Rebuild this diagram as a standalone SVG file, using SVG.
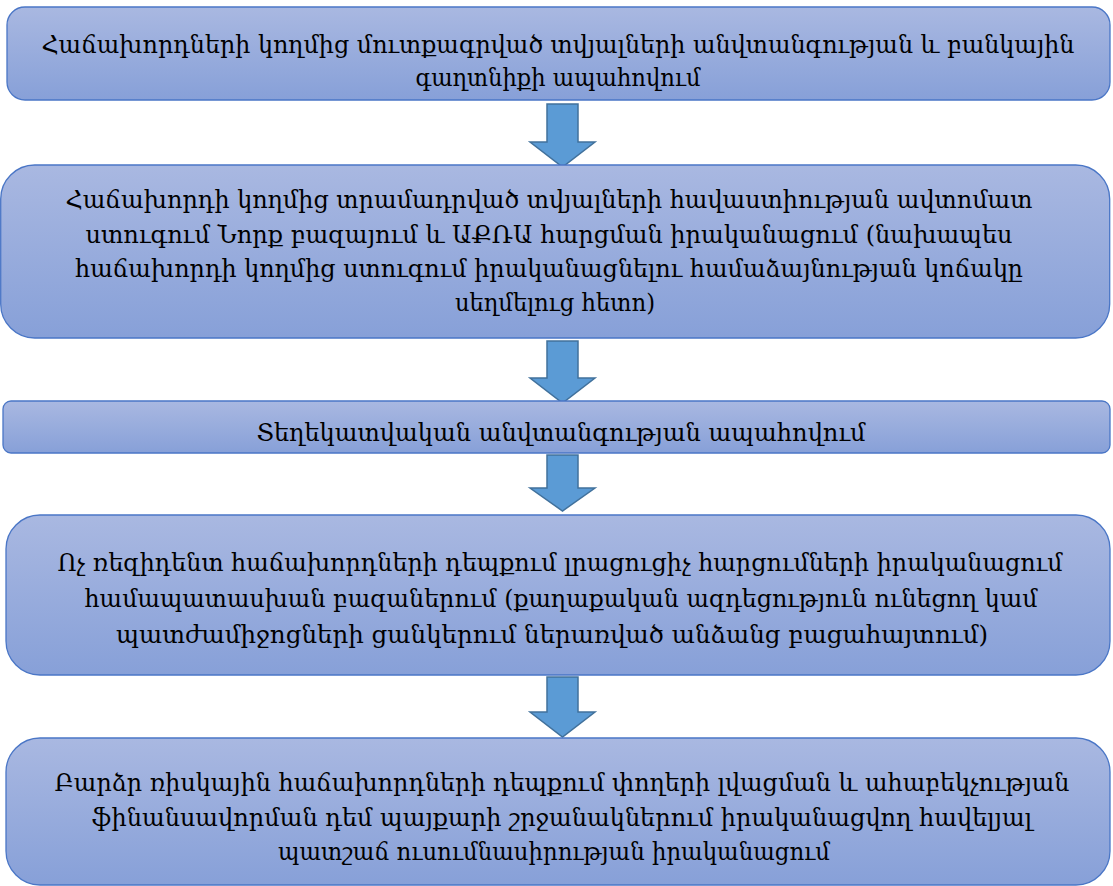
<svg xmlns="http://www.w3.org/2000/svg" width="1113" height="886" viewBox="0 0 1113 886">
<defs>
<linearGradient id="g" x1="0" y1="0" x2="0" y2="1">
<stop offset="0" stop-color="#a9b8e1"/>
<stop offset="1" stop-color="#87a0d8"/>
</linearGradient>
<style>
.box{fill:url(#g);stroke:#4a76c6;stroke-width:1.3}
.arr{fill:#5b9bd5;stroke:#41719c;stroke-width:1.5;stroke-linejoin:miter}
.t{font-family:"DejaVu Serif","Liberation Serif",serif;font-size:24px;fill:#000;text-anchor:middle}
</style>
</defs>
<rect width="1113" height="886" fill="#fff"/>
<g id="connectors">
<path class="arr" d="M547,104 H578 V142 H595 L562.5,167 L530,142 H547 Z"/>
<path class="arr" d="M547,341 H578 V378 H595 L562.5,403 L530,378 H547 Z"/>
<path class="arr" d="M547,455 H578 V488 H595 L562.5,511 L530,488 H547 Z"/>
<path class="arr" d="M547,677 H578 V712 H595 L562.5,737 L530,712 H547 Z"/>
</g>
<g id="n1">
<rect class="box" x="7" y="7" width="1103" height="93" rx="18"/>
<text class="t" x="558" y="53" textLength="1033" lengthAdjust="spacingAndGlyphs">Հաճախորդների կողմից մուտքագրված տվյալների անվտանգության և բանկային</text>
<text class="t" x="558" y="86" textLength="285" lengthAdjust="spacingAndGlyphs">գաղտնիքի ապահովում</text>
</g>
<g id="n2">
<rect class="box" x="0.7" y="165" width="1109" height="173" rx="34"/>
<text class="t" x="549" y="208" textLength="967" lengthAdjust="spacingAndGlyphs">Հաճախորդի կողմից տրամադրված տվյալների հավաստիության ավտոմատ</text>
<text class="t" x="549" y="243" textLength="927" lengthAdjust="spacingAndGlyphs">ստուգում Նորք բազայում և ԱՔՌԱ հարցման իրականացում (նախապես</text>
<text class="t" x="549" y="277" textLength="948" lengthAdjust="spacingAndGlyphs">հաճախորդի կողմից ստուգում իրականացնելու համաձայնության կոճակը</text>
<text class="t" x="555" y="311" textLength="200" lengthAdjust="spacingAndGlyphs">սեղմելուց հետո)</text>
</g>
<g id="n3">
<rect class="box" x="3" y="401" width="1107" height="52" rx="8"/>
<text class="t" x="561" y="441" textLength="609" lengthAdjust="spacingAndGlyphs">Տեղեկատվական անվտանգության ապահովում</text>
</g>
<g id="n4">
<rect class="box" x="6" y="515" width="1104" height="160" rx="34"/>
<text class="t" x="560" y="571" textLength="1005" lengthAdjust="spacingAndGlyphs">Ոչ ռեզիդենտ հաճախորդների դեպքում լրացուցիչ հարցումների իրականացում</text>
<text class="t" x="561" y="607" textLength="953" lengthAdjust="spacingAndGlyphs">համապատասխան բազաներում (քաղաքական ազդեցություն ունեցող կամ</text>
<text class="t" x="552" y="643" textLength="872" lengthAdjust="spacingAndGlyphs">պատժամիջոցների ցանկերում ներառված անձանց բացահայտում)</text>
</g>
<g id="n5">
<rect class="box" x="6" y="738" width="1104" height="147" rx="34"/>
<text class="t" x="562" y="791" textLength="1015" lengthAdjust="spacingAndGlyphs">Բարձր ռիսկային հաճախորդների դեպքում փողերի լվացման և ահաբեկչության</text>
<text class="t" x="562" y="826" textLength="940" lengthAdjust="spacingAndGlyphs">ֆինանսավորման դեմ պայքարի շրջանակներում իրականացվող հավելյալ</text>
<text class="t" x="554" y="860" textLength="552" lengthAdjust="spacingAndGlyphs">պատշաճ ուսումնասիրության իրականացում</text>
</g>
</svg>
